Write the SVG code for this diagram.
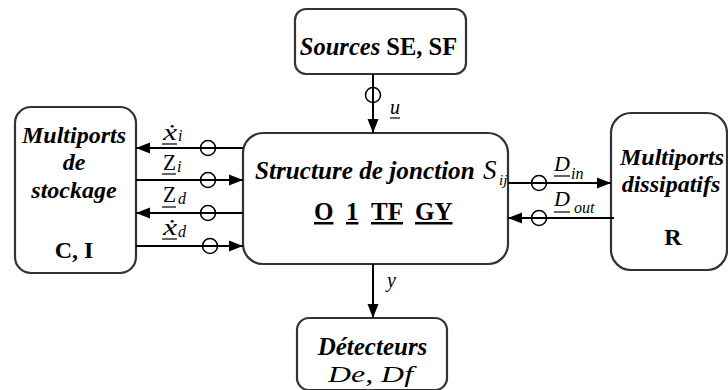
<svg xmlns="http://www.w3.org/2000/svg" width="728" height="390" viewBox="0 0 728 390">
<style>
.box{fill:#fff;stroke:#333;stroke-width:2.2}
.ln{stroke:#000;stroke-width:2;fill:none}
.ring{fill:none;stroke:#000;stroke-width:1.6}
text{font-family:'Liberation Serif','Times New Roman',serif}
.bi{font-weight:bold;font-style:italic;fill:#000}
.b{font-weight:bold;fill:#000}
.it{font-style:italic;fill:#000}
.rm{fill:#000}
.ul{stroke:#000;stroke-width:1.2}
</style>
<defs>
<marker id="arr" markerUnits="userSpaceOnUse" markerWidth="14" markerHeight="12" refX="14" refY="6" orient="auto">
<path d="M0,0.5 L14,6 L0,11.5 z" fill="#000"/>
</marker>
</defs>
<g id="sources">
<rect class="box" x="295" y="9" width="171" height="65" rx="11"/>
<text x="378.5" y="55" text-anchor="middle" font-size="24.5"><tspan class="bi">Sources</tspan><tspan class="b"> SE, SF</tspan></text>
</g>

<g id="structure">
<rect class="box" x="243" y="133" width="265" height="131" rx="20"/>
<text class="bi" x="255" y="179" font-size="25.2">Structure de jonction</text>
<text class="it" x="483" y="179" font-size="27">S</text>
<text class="it" x="499" y="185" font-size="15">ij</text>
<text class="b" x="314" y="220" font-size="25" text-decoration="underline">O</text>
<text class="b" x="346" y="220" font-size="25" text-decoration="underline">1</text>
<text class="b" x="371" y="220" font-size="25" text-decoration="underline">TF</text>
<text class="b" x="415" y="220" font-size="25" text-decoration="underline">GY</text>
</g>

<g id="stockage">
<rect class="box" x="15" y="107" width="121" height="166" rx="16"/>
<text class="bi" x="74" y="143" text-anchor="middle" font-size="24">Multiports</text>
<text class="bi" x="74" y="170" text-anchor="middle" font-size="24">de</text>
<text class="bi" x="74" y="198" text-anchor="middle" font-size="24">stockage</text>
<text class="b" x="74" y="258" text-anchor="middle" font-size="24">C, I</text>
</g>

<g id="dissipatifs">
<rect class="box" x="611" y="113" width="116" height="157" rx="20"/>
<text class="bi" x="672" y="165" text-anchor="middle" font-size="24">Multiports</text>
<text class="bi" x="671" y="192" text-anchor="middle" font-size="24">dissipatifs</text>
<text class="b" x="673" y="245" text-anchor="middle" font-size="24">R</text>
</g>

<g id="detecteurs">
<rect class="box" x="297" y="318" width="150" height="72" rx="12"/>
<text class="bi" x="372.5" y="355" text-anchor="middle" font-size="25">Détecteurs</text>
<text class="it" x="328" y="382" font-size="24" textLength="85" lengthAdjust="spacingAndGlyphs">De, Df</text>
</g>

<g id="connectors">
<line class="ln" x1="243" y1="148" x2="136" y2="148" marker-end="url(#arr)"/>
<line class="ln" x1="136" y1="180" x2="243" y2="180" marker-end="url(#arr)"/>
<line class="ln" x1="243" y1="213" x2="136" y2="213" marker-end="url(#arr)"/>
<line class="ln" x1="136" y1="246" x2="243" y2="246" marker-end="url(#arr)"/>
<line class="ln" x1="508" y1="183" x2="611" y2="183" marker-end="url(#arr)"/>
<line class="ln" x1="614" y1="218" x2="508" y2="218" marker-end="url(#arr)"/>
<line class="ln" x1="373" y1="74" x2="373" y2="133" marker-end="url(#arr)"/>
<line class="ln" x1="373" y1="264" x2="373" y2="318" marker-end="url(#arr)"/>
<circle class="ring" cx="208" cy="148" r="7.5"/>
<circle class="ring" cx="208" cy="180" r="7.5"/>
<circle class="ring" cx="208" cy="213" r="7.5"/>
<circle class="ring" cx="210" cy="246" r="7.5"/>
<circle class="ring" cx="539" cy="183" r="7.5"/>
<circle class="ring" cx="539" cy="218" r="7.5"/>
<circle class="ring" cx="373" cy="95" r="7.5"/>

<text class="it" x="163" y="140" font-size="23" textLength="14" lengthAdjust="spacingAndGlyphs">ẋ</text>
<line class="ul" x1="162" y1="144" x2="177" y2="144"/>
<text class="it" x="178" y="141" font-size="16">i</text>

<text class="rm" x="163" y="170" font-size="24" textLength="13" lengthAdjust="spacingAndGlyphs">Z</text>
<line class="ul" x1="162" y1="174" x2="176" y2="174"/>
<text class="it" x="177" y="172" font-size="16">i</text>

<text class="rm" x="163" y="202" font-size="24" textLength="13" lengthAdjust="spacingAndGlyphs">Z</text>
<line class="ul" x1="162" y1="207" x2="176" y2="207"/>
<text class="it" x="178" y="204" font-size="16">d</text>

<text class="it" x="163" y="235" font-size="23" textLength="14" lengthAdjust="spacingAndGlyphs">ẋ</text>
<line class="ul" x1="162" y1="239" x2="177" y2="239"/>
<text class="it" x="178" y="237" font-size="16">d</text>

<text class="it" x="554" y="171" font-size="22">D</text>
<line class="ul" x1="554" y1="176" x2="570" y2="176"/>
<text class="it" x="571" y="179" font-size="16">in</text>

<text class="it" x="554" y="206" font-size="22">D</text>
<line class="ul" x1="554" y1="212" x2="570" y2="212"/>
<text class="it" x="574" y="213" font-size="16">out</text>

<text class="it" x="390" y="114" font-size="20">u</text>
<line class="ul" x1="390" y1="118" x2="400" y2="118"/>
<text class="it" x="387" y="287" font-size="20">y</text>
</g>
</svg>
